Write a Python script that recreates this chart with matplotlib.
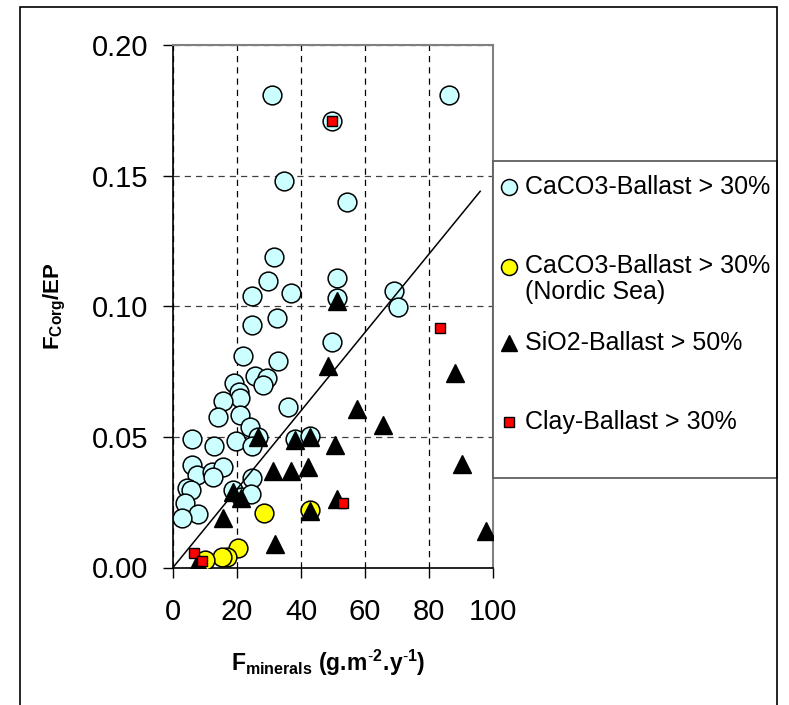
import matplotlib
matplotlib.use("Agg")
import matplotlib.pyplot as plt
from matplotlib.patches import Rectangle

plt.rcParams['font.family'] = ['Liberation Sans', 'DejaVu Sans']
plt.rcParams['mathtext.fontset'] = 'custom'
plt.rcParams['mathtext.rm'] = 'Liberation Sans'
plt.rcParams['mathtext.it'] = 'Liberation Sans'
plt.rcParams['mathtext.bf'] = 'Liberation Sans:bold'

# ---- data ----
caco3_x = [31.0, 86.3, 49.8, 34.7, 54.5, 31.7, 51.3, 29.6, 69.1, 36.9,
           24.6, 51.3, 70.4, 24.6, 32.6, 49.8, 21.8, 32.7, 25.6, 29.3,
           28.0, 19.2, 20.5, 21.0, 15.7, 36.0, 14.1, 20.9, 24.1, 26.7,
           5.8, 12.9, 19.6, 24.6, 38.1, 42.8, 5.8, 7.4, 12.1, 15.7,
           12.6, 4.3, 5.5, 3.9, 7.9, 2.7, 18.8, 21.4, 24.6, 24.4]
caco3_y = [0.181, 0.181, 0.171, 0.148, 0.140, 0.119, 0.111, 0.1095, 0.106, 0.105,
           0.104, 0.103, 0.0997, 0.093, 0.0956, 0.0863, 0.0809, 0.079, 0.0732, 0.0727,
           0.0698, 0.0707, 0.0672, 0.065, 0.0636, 0.0615, 0.0577, 0.0583, 0.0538, 0.050,
           0.049, 0.0464, 0.0485, 0.0464, 0.049, 0.0503, 0.0392, 0.0354, 0.0366, 0.0385,
           0.0347, 0.0303, 0.0296, 0.0245, 0.0205, 0.0188, 0.0296, 0.0271, 0.0341, 0.028]

nordic_x = [28.5, 42.8, 20.4, 16.8, 15.2, 10.0]
nordic_y = [0.021, 0.0222, 0.0075, 0.0041, 0.0041, 0.0029]

sio2_x = [51.3, 48.5, 88.1, 57.4, 65.7, 50.6, 90.2, 51.3, 97.7, 26.5,
          38.1, 42.8, 31.3, 36.9, 42.3, 18.8, 21.4, 15.7, 42.9, 31.9, 7.9]
sio2_y = [0.102, 0.077, 0.0745, 0.0608, 0.0545, 0.0468, 0.0398, 0.0264, 0.0141, 0.050,
          0.0487, 0.0500, 0.037, 0.037, 0.0385, 0.029, 0.0265, 0.0188, 0.0215, 0.009, 0.002]

clay_x = [49.8, 83.4, 53.2, 6.6, 9.2]
clay_y = [0.171, 0.0918, 0.0248, 0.0057, 0.0026]

line_x = [0, 96]
line_y = [0.0, 0.144]

labels = ["CaCO3-Ballast > 30%", "CaCO3-Ballast > 30%\n(Nordic Sea)",
          "SiO2-Ballast > 50%", "Clay-Ballast > 30%"]
xticks = [0, 20, 40, 60, 80, 100]
yticks = [0.00, 0.05, 0.10, 0.15, 0.20]
ytick_labels = ["0.00", "0.05", "0.10", "0.15", "0.20"]

# ---- figure ----
W, H = 789, 705
fig = plt.figure(figsize=(W / 100, H / 100), dpi=100)

# outer border
fig.patches.append(Rectangle((20 / W, -0.01), 757 / W, 1.01 - 7 / H,
                             transform=fig.transFigure, fill=False,
                             edgecolor='black', linewidth=1.2))

ax = fig.add_axes([173 / W, (H - 567.5) / H, 320 / W, 522.5 / H])
ax.set_xlim(0, 100)
ax.set_ylim(0, 0.20)

ax.xaxis.grid(True, linestyle=(0, (5, 4)), color='black', linewidth=0.9)
ax.yaxis.grid(True, linestyle=(0, (5, 4)), color='#404040', linewidth=0.9)
ax.set_axisbelow(True)

ms_c = 13.5
ax.plot(caco3_x, caco3_y, linestyle='none', marker='o', markersize=ms_c,
        markerfacecolor='#CCFFFF', markeredgecolor='black', markeredgewidth=1.1, zorder=3)
ax.plot(line_x, line_y, color='black', linewidth=1.1, zorder=3.5)
ax.plot(nordic_x, nordic_y, linestyle='none', marker='o', markersize=ms_c,
        markerfacecolor='#FFFF00', markeredgecolor='black', markeredgewidth=1.1, zorder=4)
ax.plot(sio2_x, sio2_y, linestyle='none', marker='^', markersize=13,
        markerfacecolor='black', markeredgecolor='black', markeredgewidth=1, zorder=5)
ax.plot(clay_x, clay_y, linestyle='none', marker='s', markersize=7.5,
        markerfacecolor='#FF0000', markeredgecolor='black', markeredgewidth=1, zorder=6)

ax.set_xticks(xticks)
ax.set_xticklabels([str(v) for v in xticks])
ax.set_yticks(yticks)
ax.set_yticklabels(ytick_labels)
ax.tick_params(axis='both', direction='out', length=7, width=1, labelsize=21, colors='black')
ax.tick_params(axis='y', pad=11)
ax.tick_params(axis='x', pad=15)

for s in ['left', 'bottom']:
    ax.spines[s].set_color('black')
    ax.spines[s].set_linewidth(1.2)
for s in ['top', 'right']:
    ax.spines[s].set_color('#808080')
    ax.spines[s].set_linewidth(1.5)

fig.text(328 / W, 1 - 663 / H,
         r'$\mathbf{F_{minerals}\ (g.\!m^{\text{-}2}.\!y^{\text{-}1})}$',
         ha='center', va='center', fontsize=16.5)
fig.text(55 / W, 1 - 306 / H, r'$\mathbf{F_{Corg}/EP}$',
         ha='center', va='center', fontsize=16, rotation=90)

# ---- legend box ----
lax = fig.add_axes([493 / W, (H - 478) / H, 284 / W, 317 / H])
lax.set_xlim(0, 284)
lax.set_ylim(317, 0)
lax.set_xticks([])
lax.set_yticks([])
for s in lax.spines.values():
    s.set_color('#606060')
    s.set_linewidth(1.3)
lax.set_facecolor('white')

styles = [
    dict(marker='o', markersize=11.5, markerfacecolor='#CCFFFF', markeredgecolor='black', markeredgewidth=1.1),
    dict(marker='o', markersize=11.5, markerfacecolor='#FFFF00', markeredgecolor='black', markeredgewidth=1.1),
    dict(marker='^', markersize=12, markerfacecolor='black', markeredgecolor='black'),
    dict(marker='s', markersize=7.5, markerfacecolor='#FF0000', markeredgecolor='black', markeredgewidth=1),
]
row_y = [26, 106, 182, 261]
for lab, st, yy in zip(labels, styles, row_y):
    lax.plot([16], [yy], linestyle='none', **st)
    if '\n' in lab:
        lax.text(32, yy - 13, lab, ha='left', va='top', fontsize=18, linespacing=1.12)
    else:
        lax.text(32, yy, lab, ha='left', va='center', fontsize=18)

fig.savefig('out.png', dpi=100)
